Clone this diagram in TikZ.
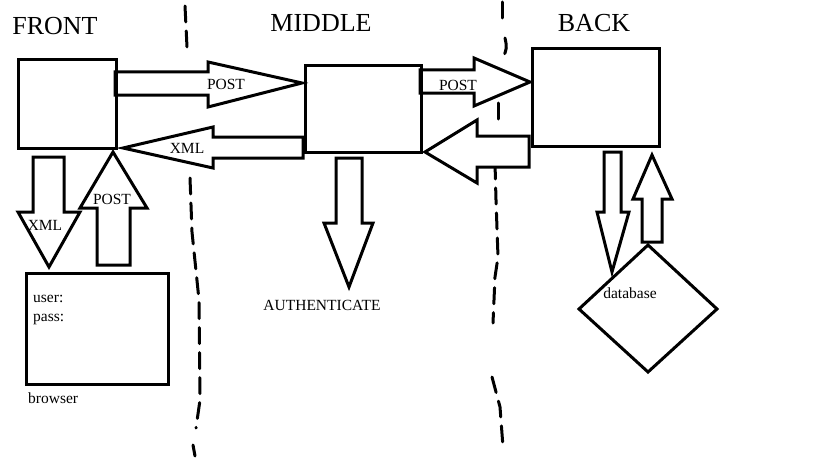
\documentclass[tikz,border=0pt]{standalone}
\usepackage{fontspec}
\setmainfont{Liberation Serif}
\begin{document}
\begin{tikzpicture}[x=1pt,y=-1pt,
  box/.style={draw, line width=3pt, inner sep=0pt, anchor=north west},
  barrow/.style={draw, line width=3pt, fill=white, line join=miter},
  lbl/.style={font=\fontsize{15.5}{17}\selectfont, inner sep=0pt, anchor=base},
  lbll/.style={font=\fontsize{15.5}{17}\selectfont, inner sep=0pt, anchor=base west},
  ttl/.style={font=\fontsize{26}{30}\selectfont, inner sep=0pt, anchor=base},
  divider/.style={line width=3pt, dash pattern=on 16pt off 9pt, line cap=round}]
\useasboundingbox (0,0) rectangle (819,460);

% titles
\node[ttl] (tfront) at (55,35) {FRONT};
\node[ttl] (tmiddle) at (321,32) {MIDDLE};
\node[ttl] (tback) at (594,32) {BACK};

% dividers
\draw[divider] (185,6) -- (187,47);
\draw[divider] (190,178) -- (192,232) -- (199,300) -- (200,400) -- (196,428);
\draw[divider] (193,445) -- (195,456);
\draw[divider] (502,2) -- (502,24);
\draw[divider] (505,38) .. controls (507,48) .. (503,58);
\draw[divider] (498,103) -- (498,127);
\draw[divider] (495,163) -- (496,200) -- (498,257) -- (495,277) -- (493,323);
\draw[divider] (492,377) -- (500,407) -- (503,447);

% block arrows
\draw[barrow] (115,72) -- (208,72) -- (208,62) -- (302,83) -- (208,107) -- (208,95) -- (115,95) -- cycle;
\draw[barrow] (303,137) -- (213,137) -- (213,127) -- (123,148) -- (213,168) -- (213,158) -- (303,158) -- cycle;
\draw[barrow] (33,157) -- (64,157) -- (64,212) -- (80,212) -- (49,267) -- (18,212) -- (33,212) -- cycle;
\draw[barrow] (97,265) -- (97,208) -- (80,208) -- (113,152) -- (147,208) -- (130,208) -- (130,265) -- cycle;
\draw[barrow] (420,70) -- (474,70) -- (474,58) -- (530,82) -- (474,106) -- (474,93) -- (420,93) -- cycle;
\draw[barrow] (529,136) -- (477,136) -- (477,120) -- (425,152) -- (477,183) -- (477,167) -- (529,167) -- cycle;
\draw[barrow] (336,158) -- (362,158) -- (362,223) -- (373,223) -- (349,287) -- (324,223) -- (336,223) -- cycle;
\draw[barrow] (604,152) -- (621,152) -- (621,212) -- (629,212) -- (612,272) -- (597,212) -- (604,212) -- cycle;
\draw[barrow] (642,242) -- (642,199) -- (633,199) -- (652,155) -- (672,199) -- (662,199) -- (662,242) -- cycle;

% boxes
\node[box, minimum width=98pt, minimum height=89pt] (front) at (17,58) {};
\node[box, minimum width=116pt, minimum height=87pt] (middle) at (304,64) {};
\node[box, minimum width=127pt, minimum height=98pt] (back) at (531,47) {};
\node[box, minimum width=142pt, minimum height=111pt] (browser) at (25,272) {};
\draw[line width=3pt, line join=miter, fill=white] (648,245) coordinate (dbn) -- (717,309) coordinate (dbe) -- (648,372) coordinate (dbs) -- (579,309) coordinate (dbw) -- cycle;

% labels
\node[lbl] (l1) at (226,89) {POST};
\node[lbl] (l2) at (187,153) {XML};
\node[lbl] (l3) at (45,230) {XML};
\node[lbl] (l4) at (112,204) {POST};
\node[lbl] (l5) at (458,90) {POST};
\node[lbl] (l6) at (322,310) {AUTHENTICATE};
\node[lbl] (l7) at (630,298) {database};
\node[lbll] (l8) at (33,302) {user:};
\node[lbll] (l9) at (33,321) {pass:};
\node[lbll] (l10) at (28,403) {browser};
\end{tikzpicture}
\end{document}
